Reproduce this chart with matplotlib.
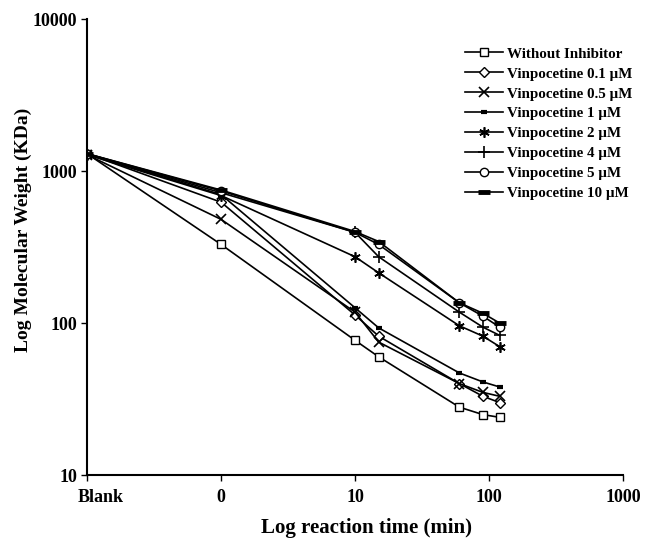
import numpy as np
import matplotlib
matplotlib.use('Agg')
import matplotlib.pyplot as plt
import matplotlib.transforms as mtransforms

plt.rcParams['font.family'] = ['Liberation Serif', 'DejaVu Serif']
plt.rcParams['font.weight'] = 'bold'

# x positions: Blank plotted at 0.1, time 0 at 1 (log axis)
times = [0.1, 1, 10, 15, 60, 90, 120]
tick_pos = [0.1, 1, 10, 100, 1000]
tick_labels = ["Blank", "0", "10", "100", "1000"]

without = [1300, 329, 77, 60, 28, 25, 24]
vin_01 = [1300, 624, 113, 82, 40, 33, 30]
vin_05 = [1280, 481, 118, 75, 40, 35, 33]
vin_1 = [1300, 700, 126, 93, 47, 41, 38]
vin_2 = [1280, 690, 273, 214, 96, 82, 70]
vin_4 = [1300, 720, 395, 273, 118, 94, 83]
vin_5 = [1300, 740, 395, 329, 136, 111, 94]
vin_10 = [1300, 750, 400, 344, 136, 116, 100]

series = [
    ("Without Inhibitor", without, dict(marker='s', ms=5.5, mfc='white')),
    ("Vinpocetine 0.1 \u00b5M", vin_01, dict(marker='D', ms=5, mfc='white')),
    ("Vinpocetine 0.5 \u00b5M", vin_05, dict(marker='x', ms=6.5, mew=1.2)),
    ("Vinpocetine 1 \u00b5M", vin_1, dict(marker='_', ms=5, mew=3)),
    ("Vinpocetine 2 \u00b5M", vin_2, dict(marker=(6, 2, 0), ms=7.5, mew=1.2)),
    ("Vinpocetine 4 \u00b5M", vin_4, dict(marker='+', ms=8, mew=1.2)),
    ("Vinpocetine 5 \u00b5M", vin_5, dict(marker='o', ms=6, mfc='white')),
    ("Vinpocetine 10 \u00b5M", vin_10, dict(marker='_', ms=8, mew=3.5)),
]

fig = plt.figure(figsize=(6.45, 5.43), dpi=100)
ax = fig.add_axes([0.135, 0.125, 0.831, 0.84])

for label, vals, st in series:
    ax.plot(times, vals, color='black', lw=1.2, mec='black', label=label, **st)

ax.set_xscale('log')
ax.set_yscale('log')
ax.set_xlim(0.1, 1000)
ax.set_ylim(10, 10000)
ax.set_xticks(tick_pos)
ax.set_xticklabels(tick_labels)
ax.set_yticks([10, 100, 1000, 10000])
ax.set_yticklabels(["10", "100", "1000", "10000"])
ax.minorticks_off()
ax.tick_params(direction='out', length=4, width=1, labelsize=13)
ax.tick_params(axis='x', pad=6)
ax.tick_params(axis='y', pad=3)
for s in ['top', 'right']:
    ax.spines[s].set_visible(False)
for s in ['left', 'bottom']:
    ax.spines[s].set_linewidth(1.5)

# the "Blank" label sits a bit right of its tick in the original
shift = mtransforms.ScaledTranslation(14 / 100, 0, fig.dpi_scale_trans)
lbl = ax.get_xticklabels()[0]
lbl.set_transform(lbl.get_transform() + shift)

ax.set_xlabel("Log reaction time (min)", fontsize=15, fontweight='bold')
ax.set_ylabel("Log Molecular Weight (KDa)", fontsize=14, fontweight='bold')
ax.xaxis.set_label_coords(0.522, -0.095)
ax.yaxis.set_label_coords(-0.103, 0.537)

ax.legend(loc='upper left', bbox_to_anchor=(0.68, 0.968), frameon=False,
          fontsize=10.8, handlelength=2.5, labelspacing=0.43, handletextpad=0.3)

fig.savefig('out.png', dpi=100)
